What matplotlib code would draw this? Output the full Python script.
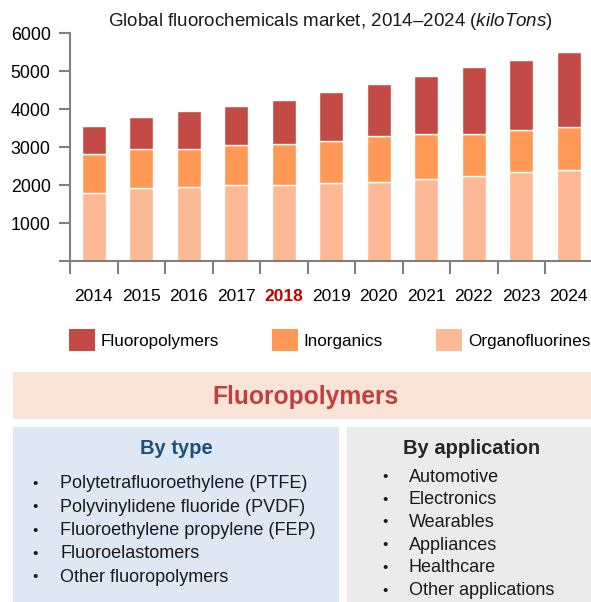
import matplotlib
matplotlib.use('Agg')
import matplotlib.pyplot as plt
from matplotlib.patches import Rectangle, Patch
import numpy as np

plt.rcParams['font.family'] = ['Liberation Sans', 'DejaVu Sans']
plt.rcParams['mathtext.fontset'] = 'custom'
plt.rcParams['mathtext.rm'] = 'Liberation Sans'
plt.rcParams['mathtext.it'] = 'Liberation Sans:italic'

# Data (kiloTons)
years = ['2014', '2015', '2016', '2017', '2018', '2019', '2020', '2021', '2022', '2023', '2024']
organofluorines = [1800, 1930, 1960, 1990, 2010, 2050, 2090, 2160, 2240, 2330, 2400]
inorganics = [1020, 1030, 1000, 1070, 1080, 1110, 1190, 1170, 1110, 1110, 1130]
fluoropolymers = [740, 840, 980, 1020, 1150, 1300, 1380, 1540, 1750, 1840, 1960]

by_type = ['Polytetrafluoroethylene (PTFE)', 'Polyvinylidene fluoride (PVDF)',
           'Fluoroethylene propylene (FEP)', 'Fluoroelastomers', 'Other fluoropolymers']
by_application = ['Automotive', 'Electronics', 'Wearables', 'Appliances',
                  'Healthcare', 'Other applications']

c_fluoro = '#C44A46'
c_inorg = '#FF9955'
c_organo = '#FDB896'

W, H = 591, 602
fig = plt.figure(figsize=(W / 100, H / 100), dpi=100)


def fx(x):
    return x / W


def fy(y):
    return 1 - y / H


# chart axes
ax = fig.add_axes([fx(70), fy(261), 522.5 / W, 228 / H])
x = np.arange(len(years))
org = np.array(organofluorines)
ino = np.array(inorganics)
flu = np.array(fluoropolymers)
ax.bar(x, org, width=0.5, color=c_organo, edgecolor='white', linewidth=1)
ax.bar(x, ino, width=0.5, bottom=org, color=c_inorg, edgecolor='white', linewidth=1)
ax.bar(x, flu, width=0.5, bottom=org + ino, color=c_fluoro, edgecolor='white', linewidth=1)

ax.set_xlim(-0.5, len(years) - 0.5)
ax.set_ylim(0, 6000)
ax.set_yticks([0, 1000, 2000, 3000, 4000, 5000, 6000])
ax.set_yticklabels(['', '1000', '2000', '3000', '4000', '5000', '6000'], fontsize=12.8)
ax.set_xticks(x)
ax.set_xticklabels(years, fontsize=12.5)
ax.set_xticks(np.arange(len(years)) - 0.5, minor=True)
ax.tick_params(axis='x', which='major', length=0, pad=20)
ax.tick_params(axis='x', which='minor', length=9, width=1.5, color='#808080', direction='out')
ax.tick_params(axis='y', length=8, width=1.5, color='#808080', pad=6)
for s in ['top', 'right']:
    ax.spines[s].set_visible(False)
for s in ['left', 'bottom']:
    ax.spines[s].set_color('#808080')
    ax.spines[s].set_linewidth(1.5)
lbl = ax.get_xticklabels()[years.index('2018')]
lbl.set_color('#C00000')
lbl.set_fontweight('bold')

fig.text(fx(330), fy(22), r'Global fluorochemicals market, 2014–2024 ($\mathit{kiloTons}$)',
         ha='center', va='center', fontsize=13.5, color='#1a1a1a')

# legend
handles = [Patch(facecolor=c_fluoro, edgecolor='none', label='Fluoropolymers'),
           Patch(facecolor=c_inorg, edgecolor='none', label='Inorganics'),
           Patch(facecolor=c_organo, edgecolor='none', label='Organofluorines')]
fig.legend(handles=handles, loc='center', bbox_to_anchor=(fx(329.5), fy(340)), ncol=3,
           frameon=False, fontsize=12.3, handlelength=1.52, handleheight=1.52,
           handletextpad=0.35, columnspacing=3.1)

# banner
fig.add_artist(Rectangle((fx(13), fy(419)), fx(591 - 13), 47 / H, transform=fig.transFigure,
                         facecolor='#FAE3D7', edgecolor='none'))
fig.text(fx(306), fy(397), 'Fluoropolymers', ha='center', va='center', fontsize=17.7,
         fontweight='bold', color='#C0403C')

# panels
fig.add_artist(Rectangle((fx(13), 0), fx(339 - 13), fy(427), transform=fig.transFigure,
                         facecolor='#DDE8F4', edgecolor='none'))
fig.add_artist(Rectangle((fx(347), 0), fx(591 - 347), fy(427), transform=fig.transFigure,
                         facecolor='#EBEBEB', edgecolor='none'))

fig.text(fx(176), fy(448), 'By type', ha='center', va='center', fontsize=14.5,
         fontweight='bold', color='#1F4E79')
fig.text(fx(472), fy(448), 'By application', ha='center', va='center', fontsize=14.5,
         fontweight='bold', color='#262626')

for i, item in enumerate(by_type):
    y = 484 + i * 23.3
    fig.text(fx(35), fy(y), '•', ha='center', va='center', fontsize=11, color='#1a1a1a')
    fig.text(fx(60), fy(y), item, ha='left', va='center', fontsize=13, color='#1a1a1a')

for i, item in enumerate(by_application):
    y = 477 + i * 22.7
    fig.text(fx(385), fy(y), '•', ha='center', va='center', fontsize=11, color='#1a1a1a')
    fig.text(fx(409), fy(y), item, ha='left', va='center', fontsize=13, color='#1a1a1a')

fig.savefig('out.png', dpi=100)
